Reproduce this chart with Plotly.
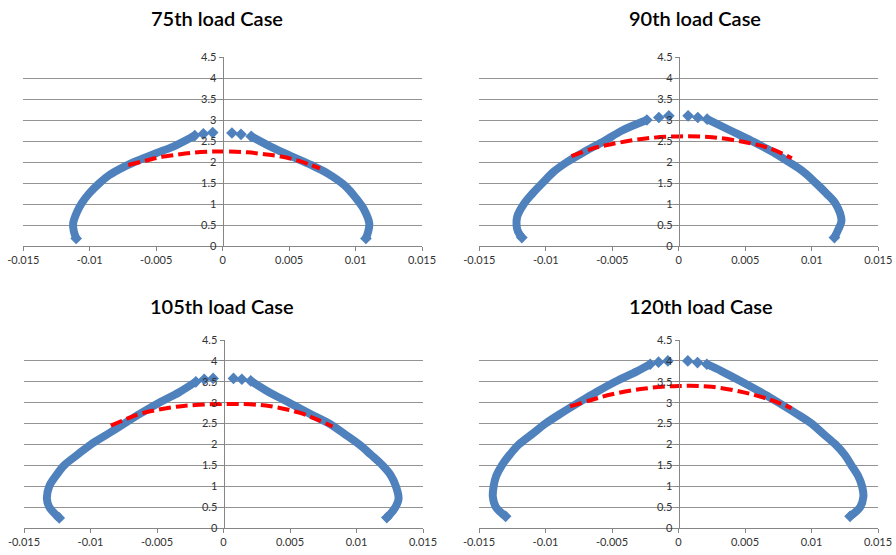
import plotly.graph_objects as go

# ---------------- data ----------------
titles = ["75th load Case", "90th load Case", "105th load Case", "120th load Case"]

x_ticks = [-0.015, -0.01, -0.005, 0, 0.005, 0.01, 0.015]
x_tick_labels = ["-0.015", "-0.01", "-0.005", "0", "0.005", "0.01", "0.015"]
y_ticks = [0, 0.5, 1, 1.5, 2, 2.5, 3, 3.5, 4, 4.5]
y_tick_labels = ["0", "0.5", "1", "1.5", "2", "2.5", "3", "3.5", "4", "4.5"]

# 75th load case
lc75_left_x = [-0.00075, -0.00145, -0.0021, -0.0025, -0.00376, -0.00501, -0.00626, -0.00739,
               -0.00852, -0.0093, -0.01005, -0.0106, -0.0110, -0.01125, -0.0112, -0.01102]
lc75_left_y = [2.70, 2.67, 2.63, 2.56, 2.36, 2.21, 2.05, 1.89, 1.69, 1.49, 1.25, 1.02, 0.78, 0.54, 0.35, 0.18]
lc75_right_x = [0.00070, 0.00138, 0.00215, 0.00364, 0.00514, 0.00665, 0.00789, 0.00915,
                0.01003, 0.01065, 0.01103, 0.01095, 0.01078]
lc75_right_y = [2.69, 2.66, 2.61, 2.36, 2.14, 1.93, 1.73, 1.45, 1.14, 0.86, 0.54, 0.34, 0.18]
lc75_fit_x = [-0.0071, -0.0058, -0.00476, -0.0035, -0.00225, -0.001, 0.0, 0.001, 0.00188,
              0.0030, 0.00439, 0.0058, 0.00732]
lc75_fit_y = [1.93, 2.03, 2.11, 2.17, 2.22, 2.245, 2.25, 2.245, 2.23, 2.19, 2.13, 2.02, 1.85]

# 90th load case
lc90_left_x = [-0.00075, -0.0015, -0.0024, -0.00426, -0.0056, -0.0070, -0.0084, -0.0094,
               -0.01025, -0.0110, -0.01165, -0.01215, -0.0122, -0.0121, -0.0118]
lc90_left_y = [3.10, 3.06, 3.00, 2.75, 2.50, 2.26, 2.00, 1.77, 1.50, 1.25, 1.00, 0.70, 0.50, 0.35, 0.20]
lc90_right_x = [0.0007, 0.00143, 0.00213, 0.00388, 0.0055, 0.0070, 0.00827, 0.0094, 0.0103,
                0.0111, 0.0118, 0.01223, 0.0120, 0.0117]
lc90_right_y = [3.10, 3.06, 3.02, 2.75, 2.50, 2.25, 2.00, 1.76, 1.50, 1.25, 1.00, 0.60, 0.40, 0.20]
lc90_fit_x = [-0.00807, -0.0065, -0.0050, -0.0025, 0.0, 0.0025, 0.0050, 0.0068, 0.0085]
lc90_fit_y = [2.14, 2.32, 2.43, 2.56, 2.61, 2.59, 2.47, 2.33, 2.09]

# 105th load case
lc105_left_x = [-0.00078, -0.00145, -0.00208, -0.00333, -0.00484, -0.0062, -0.00747, -0.0087,
                -0.00997, -0.0110, -0.01198, -0.0126, -0.0131, -0.01328, -0.0131, -0.01235]
lc105_left_y = [3.58, 3.56, 3.50, 3.25, 3.00, 2.75, 2.50, 2.25, 2.00, 1.75, 1.50, 1.25, 1.00, 0.70, 0.50, 0.24]
lc105_right_x = [0.00075, 0.00138, 0.00205, 0.00343, 0.00494, 0.0064, 0.00794, 0.0091, 0.0102,
                 0.0111, 0.01195, 0.0126, 0.01296, 0.01316, 0.01283, 0.01228]
lc105_right_y = [3.58, 3.56, 3.52, 3.25, 3.00, 2.75, 2.50, 2.25, 2.00, 1.75, 1.50, 1.25, 1.00, 0.70, 0.45, 0.25]
lc105_fit_x = [-0.00847, -0.0073, -0.00609, -0.00333, 0.0, 0.00318, 0.00569, 0.0070, 0.0082]
lc105_fit_y = [2.45, 2.61, 2.75, 2.91, 2.97, 2.93, 2.76, 2.60, 2.43]

# 120th load case
lc120_left_x = [-0.0008, -0.0015, -0.00213, -0.00313, -0.00476, -0.0062, -0.00752, -0.0088, -0.0100,
                -0.0110, -0.0120, -0.0127, -0.01328, -0.0137, -0.0139, -0.01396, -0.01373, -0.0130]
lc120_left_y = [4.00, 3.97, 3.92, 3.75, 3.50, 3.25, 3.00, 2.75, 2.50, 2.25, 2.00, 1.75, 1.50,
                1.25, 1.00, 0.75, 0.50, 0.28]
lc120_right_x = [0.0007, 0.00143, 0.00213, 0.00326, 0.00476, 0.0062, 0.00752, 0.0088, 0.0100,
                 0.0109, 0.0118, 0.0125, 0.0130, 0.0135, 0.0138, 0.0139, 0.01366, 0.0129]
lc120_right_y = [4.00, 3.96, 3.92, 3.75, 3.50, 3.25, 3.00, 2.75, 2.50, 2.25, 2.00, 1.75, 1.50,
                 1.25, 1.00, 0.75, 0.50, 0.28]
lc120_fit_x = [-0.00815, -0.0065, -0.0050, -0.0025, 0.0, 0.0025, 0.0050, 0.0068, 0.0085]
lc120_fit_y = [2.91, 3.07, 3.20, 3.34, 3.40, 3.38, 3.24, 3.08, 2.87]

panels = [
    (lc75_left_x, lc75_left_y, lc75_right_x, lc75_right_y, lc75_fit_x, lc75_fit_y),
    (lc90_left_x, lc90_left_y, lc90_right_x, lc90_right_y, lc90_fit_x, lc90_fit_y),
    (lc105_left_x, lc105_left_y, lc105_right_x, lc105_right_y, lc105_fit_x, lc105_fit_y),
    (lc120_left_x, lc120_left_y, lc120_right_x, lc120_right_y, lc120_fit_x, lc120_fit_y),
]

# ---------------- layout ----------------
W, H = 896, 555
BLUE = "#4F81BD"
RED = "#FF0000"
GRID = "#939393"
AXIS = "#868686"
TICKFONT = dict(family="Lato, Liberation Sans, sans-serif", size=11, color="#333333")

# pixel boxes (left, right, top, bottom)
boxes = [(23.3, 422.0, 57.0, 246.0), (479.3, 878.3, 57.0, 246.0),
         (24.0, 423.0, 340.0, 528.0), (479.0, 878.0, 340.0, 528.0)]
title_pos = [(217, 18), (695, 18), (222, 306), (701, 306)]

fig = go.Figure()
layout = dict(width=W, height=H, margin=dict(l=0, r=0, t=0, b=0, autoexpand=False),
              paper_bgcolor="white", plot_bgcolor="white", showlegend=False,
              annotations=[])

for i, (lx, ly, rx, ry, fx, fy) in enumerate(panels):
    n = "" if i == 0 else str(i + 1)
    xa, ya = "x" + n, "y" + n
    for bx, by in ((lx, ly), (rx, ry)):
        # dense band
        fig.add_trace(go.Scatter(x=bx[2:], y=by[2:], xaxis=xa, yaxis=ya, mode="lines",
                                 line=dict(color=BLUE, width=8, shape="spline"),
                                 hoverinfo="skip"))
        # end diamonds of the band and separate top diamonds
        fig.add_trace(go.Scatter(x=bx[:3] + [bx[-1]], y=by[:3] + [by[-1]], xaxis=xa, yaxis=ya,
                                 mode="markers",
                                 marker=dict(symbol="diamond", size=9, color=BLUE),
                                 hoverinfo="skip"))
    fig.add_trace(go.Scatter(x=fx, y=fy, xaxis=xa, yaxis=ya, mode="lines",
                             line=dict(color=RED, width=4, dash="12px,5px", shape="spline"),
                             hoverinfo="skip"))

    l, r, t, b = boxes[i]
    xd = [l / W, r / W]
    yd = [1 - b / H, 1 - t / H]
    layout["xaxis" + n] = dict(domain=xd, anchor=ya, range=[-0.015, 0.015],
                               tickvals=x_ticks, ticktext=x_tick_labels,
                               showgrid=False, zeroline=False, showline=True,
                               linecolor=AXIS, linewidth=1, ticks="outside",
                               ticklen=4, tickcolor=AXIS, tickfont=TICKFONT,
                               automargin=False, fixedrange=True)
    layout["yaxis" + n] = dict(domain=yd, anchor="free", position=(xd[0] + xd[1]) / 2,
                               range=[0, 4.5], tickvals=y_ticks, ticktext=y_tick_labels,
                               showgrid=True, gridcolor=GRID, gridwidth=1,
                               zeroline=False, showline=True, linecolor=AXIS,
                               linewidth=1, ticks="outside", ticklen=4,
                               tickcolor=AXIS, tickfont=TICKFONT,
                               automargin=False, fixedrange=True)
    tx, ty = title_pos[i]
    layout["annotations"].append(dict(text=titles[i], x=tx / W, y=1 - ty / H,
                                      xref="paper", yref="paper", showarrow=False,
                                      xanchor="center", yanchor="middle",
                                      font=dict(family="Lato, sans-serif", size=20,
                                                color="#000000", weight=600)))

fig.update_layout(**layout)
fig.write_html("out.html")
